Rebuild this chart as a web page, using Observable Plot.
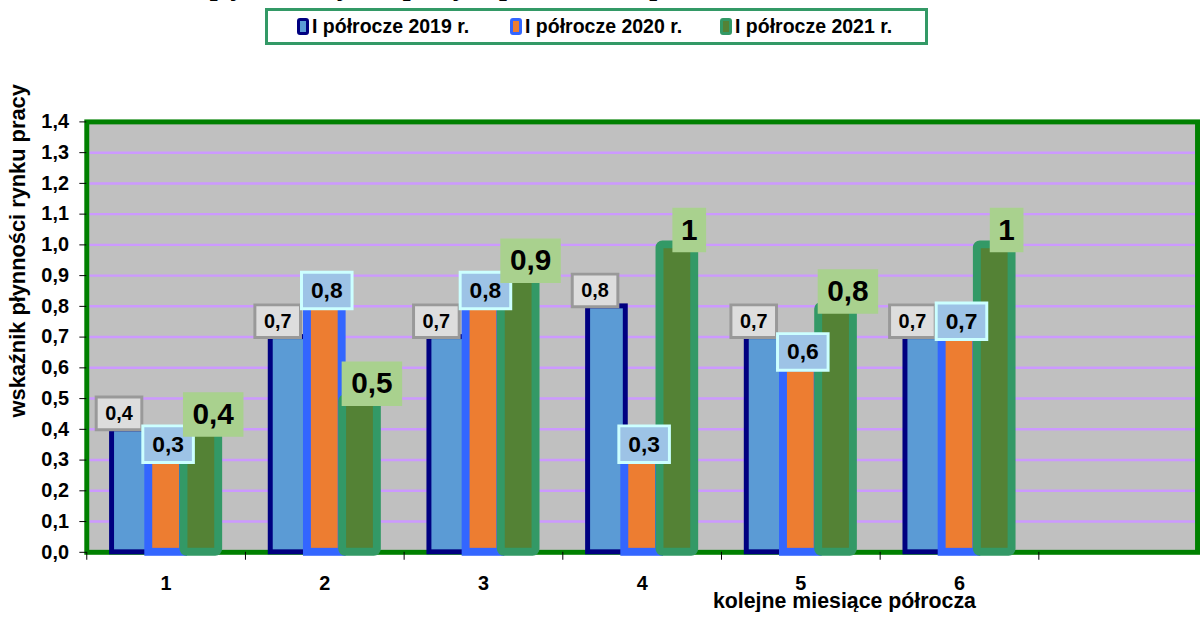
<!DOCTYPE html>
<html>
<head>
<meta charset="utf-8">
<script src="https://cdn.jsdelivr.net/npm/d3@7"></script>
<script src="https://cdn.jsdelivr.net/npm/@observablehq/plot@0.6"></script>
<style>
  body { margin: 0; background: #fff; font-family: "Liberation Sans", Arial, sans-serif; }
  #wrap { position: relative; width: 1200px; height: 617px; overflow: hidden; }
  #head { position: relative; height: 50px; }
  #title { position: absolute; top: -28px; left: 0; white-space: nowrap;
           font: italic bold 28px "Liberation Serif", "Times New Roman", serif; line-height: 28px; }
  #legend { position: absolute; left: 265px; top: 8px; width: 657px; height: 31px;
            border: 3px solid #339966; background: #fff; }
  .item { position: absolute; top: 0; height: 31px; display: flex; align-items: center;
          font-weight: bold; font-size: 19.5px; white-space: nowrap; }
  .mk { display: inline-block; width: 6px; height: 11px; border: 3px solid; border-radius: 3px; margin-right: 3px; }
  #chart svg { display: block; }
</style>
</head>
<body>
<div id="wrap">
  <div id="head">
    <div id="title"></div>
    <div id="legend"></div>
  </div>
  <div id="chart"></div>
</div>
<script>
// ---- data ----
const titleText = "Dynamika wskaźnika płynności rynku pracy w powiecie w I półroczu 2019, 2020 i 2021 r.";
const months = [1, 2, 3, 4, 5, 6];
const bands = [1, 2, 3, 4, 5, 6, 7];
const seriesNames = ["I półrocze 2019 r.", "I półrocze 2020 r.", "I półrocze 2021 r."];
const values2019 = [0.4, 0.7, 0.7, 0.8, 0.7, 0.7];
const values2020 = [0.3, 0.8, 0.8, 0.3, 0.6, 0.7];
const values2021 = [0.4, 0.5, 0.9, 1, 0.8, 1];
const yTicks = [0, 0.1, 0.2, 0.3, 0.4, 0.5, 0.6, 0.7, 0.8, 0.9, 1.0, 1.1, 1.2, 1.3, 1.4];
const xTitle = "kolejne miesiące półrocza";
const yTitle = "wskaźnik płynności rynku pracy";

// ---- styles ----
const S = [
  {fill: "#5b9bd5", stroke: "#000080", sw: 5, inner: "#5b9bd5"},
  {fill: "#ed7d31", stroke: "#3366ff", sw: 8, inner: "#ed7d31"},
  {fill: "#548235", stroke: "#339966", sw: 8, inner: "#548235"}
];

// title (clipped at top, as in the reference)
const title = document.getElementById("title");
const pre = document.createElement("span");
pre.textContent = "Dynamika wskaźnika ";
title.appendChild(pre);
title.appendChild(document.createTextNode(titleText.slice(pre.textContent.length)));
title.style.left = (212 - pre.getBoundingClientRect().width) + "px";

// legend
const legend = document.getElementById("legend");
const legendLeft = [29, 242, 452];
seriesNames.forEach((name, i) => {
  const it = document.createElement("div");
  it.className = "item";
  it.style.left = legendLeft[i] + "px";
  const mk = document.createElement("span");
  mk.className = "mk";
  mk.style.borderColor = S[i].stroke;
  mk.style.background = S[i].inner;
  it.appendChild(mk);
  it.appendChild(document.createTextNode(name));
  legend.appendChild(it);
});

const fmt = v => String(v).replace(".", ",");
const rows = vals => months.map((m, i) => ({month: m, value: vals[i], label: fmt(vals[i])}));
const r2019 = rows(values2019), r2020 = rows(values2020), r2021 = rows(values2021);

const box = (w, h) => ({draw(ctx) { ctx.rect(-w / 2, -h / 2, w, h); }});
const step = 35.5;

function bars(data, i, extra = {}) {
  const w = 43 - S[i].sw;
  return Plot.barY(data, {x: "month", y: "value", dx: (i - 1) * step,
    insetLeft: (160 - w) / 2, insetRight: (160 - w) / 2,
    fill: S[i].fill, stroke: S[i].stroke, strokeWidth: S[i].sw, ...extra});
}

const chart = Plot.plot({
  width: 1210,
  height: 567,
  marginLeft: 87,
  marginRight: 3,
  marginTop: 72,
  marginBottom: 61,
  style: {fontFamily: "'Liberation Sans', Arial, sans-serif", fontWeight: "bold", color: "#000", background: "transparent"},
  x: {type: "band", domain: bands, padding: 0},
  y: {domain: [0, 1.4]},
  marks: [
    Plot.frame({fill: "#c0c0c0"}),
    Plot.ruleY(yTicks.filter(t => t > 0 && t < 1.4), {stroke: "#cc99ff", strokeWidth: 2.5}),
    Plot.frame({stroke: "#008000", strokeWidth: 5}),
    bars(r2019, 0),
    bars(r2020, 1),
    bars(r2021, 2, {rx: 3}),
    // 2019 labels
    Plot.dot(r2019, {x: "month", y: "value", dx: -step - 12, dy: -16, symbol: box(46, 33),
      fill: "#dddddd", stroke: "#999999", strokeWidth: 3}),
    Plot.text(r2019, {x: "month", y: "value", text: "label", dx: -step - 12, dy: -16,
      fontSize: 20, fill: "#000", lineAnchor: "middle"}),
    // 2020 labels
    Plot.dot(r2020, {x: "month", y: "value", dx: 2, dy: -16, symbol: box(51, 37),
      fill: "#9dc3e6", stroke: "#ccffff", strokeWidth: 3}),
    Plot.text(r2020, {x: "month", y: "value", text: "label", dx: 2, dy: -16,
      fontSize: 23, fill: "#000", lineAnchor: "middle"}),
    // 2021 labels
    Plot.dot(r2021.filter(d => d.label.length > 1), {x: "month", y: "value", dx: step + 12, dy: -15, symbol: box(61, 45),
      fill: "#a9d18e"}),
    Plot.dot(r2021.filter(d => d.label.length === 1), {x: "month", y: "value", dx: step + 12, dy: -15, symbol: box(34, 45),
      fill: "#a9d18e"}),
    Plot.text(r2021, {x: "month", y: "value", text: "label", dx: step + 12, dy: -15,
      fontSize: 30, fill: "#000", lineAnchor: "middle"}),
    // axes
    Plot.axisY({ticks: yTicks, tickSize: 7, tickPadding: 11, tickFormat: d => d.toFixed(1).replace(".", ","),
      fontSize: 20, label: null}),
    Plot.axisX({ticks: months, tickSize: 0, tickPadding: 24, fontSize: 20, label: null}),
    Plot.axisX({ticks: bands, tickSize: 8, tickPadding: 0, tickFormat: () => "", dx: -80, label: null}),
    Plot.text([xTitle], {frameAnchor: "bottom", dx: 204, dy: 49, fontSize: 21.5, lineAnchor: "middle", textAnchor: "middle"}),
    Plot.text([yTitle], {frameAnchor: "left", rotate: -90, dx: -69, dy: -87, fontSize: 22, lineAnchor: "middle", textAnchor: "middle"})
  ]
});
document.getElementById("chart").appendChild(chart);
</script>
</body>
</html>
